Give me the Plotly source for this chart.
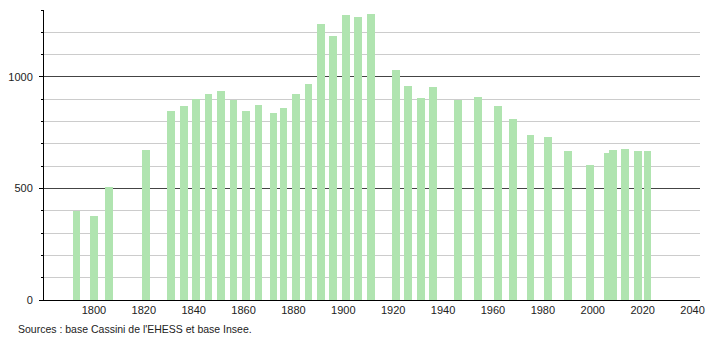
import plotly.graph_objects as go

years = [1793, 1800, 1806, 1821, 1831, 1836, 1841, 1846, 1851, 1856,
         1861, 1866, 1872, 1876, 1881, 1886, 1891, 1896, 1901, 1906,
         1911, 1921, 1926, 1931, 1936, 1946, 1954, 1962, 1968, 1975,
         1982, 1990, 1999, 2006, 2008, 2013, 2018, 2022]
population = [399, 378, 505, 673, 848, 870, 901, 922, 937, 897,
              848, 873, 839, 862, 922, 970, 1238, 1184, 1278, 1269,
              1280, 1030, 960, 906, 954, 897, 910, 870, 812, 738,
              731, 667, 605, 658, 671, 676, 667, 667]
x_ticks = [1800, 1820, 1840, 1860, 1880, 1900, 1920, 1940, 1960, 1980, 2000, 2020, 2040]
y_ticks = [0, 500, 1000]
source_text = "Sources : base Cassini de l'EHESS et base Insee."

fig = go.Figure()
fig.add_trace(go.Bar(
    x=years, y=population, width=3.1,
    marker=dict(color="#b0e4b0", line=dict(width=0)),
    hoverinfo="x+y",
))

fig.update_layout(
    width=710, height=340,
    margin=dict(l=44, r=10, t=10, b=40, autoexpand=False),
    paper_bgcolor="white", plot_bgcolor="white",
    font=dict(family="Liberation Sans, Arial, sans-serif", size=11, color="#222"),
    showlegend=False,
    bargap=0,
    xaxis=dict(
        range=[1780, 2043], tickvals=x_ticks, ticktext=[str(t) for t in x_ticks],
        showgrid=False, zeroline=False, showline=True, linecolor="#000", linewidth=1,
        ticks="", ticklabelstandoff=0, fixedrange=True, automargin=False,
    ),
    yaxis=dict(
        range=[0, 1300], tickvals=y_ticks, ticktext=[str(t) for t in y_ticks],
        showgrid=True, gridcolor="#444", gridwidth=1,
        zeroline=False, showline=True, linecolor="#000", linewidth=1,
        ticks="outside", ticklen=4, tickcolor="#000",
        minor=dict(dtick=100, showgrid=True, gridcolor="#cccccc", ticks="outside", ticklen=2, tickcolor="#000"),
        ticklabelstandoff=4, fixedrange=True, automargin=False,
    ),
    annotations=[dict(
        text=source_text, xref="paper", yref="paper",
        x=(16 - 44) / 656, y=(300 - 329) / 290, xanchor="left", yanchor="middle",
        showarrow=False, font=dict(size=10.5, color="#222"),
    )],
)

fig.write_html("out.html")
